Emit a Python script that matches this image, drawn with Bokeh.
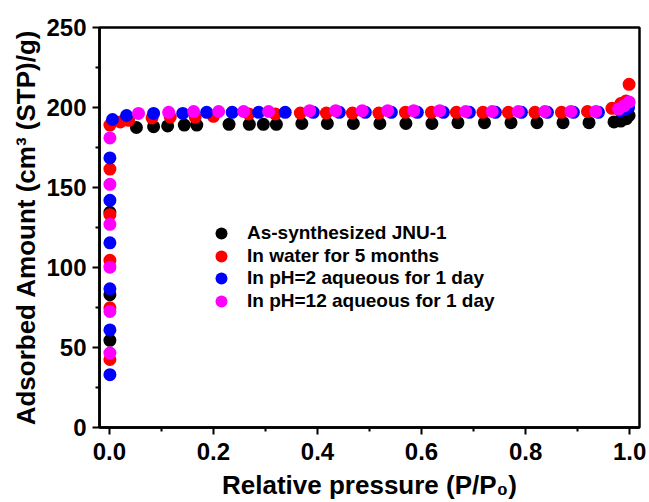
from bokeh.plotting import figure
from bokeh.models import Range1d, Legend, LegendItem, FixedTicker
from bokeh.embed import file_html
from bokeh.resources import INLINE

# ---- data ----
black_x = [0.001, 0.001, 0.001, 0.052, 0.085, 0.112, 0.144, 0.168, 0.230, 0.269, 0.296, 0.321,
           0.370, 0.419, 0.469, 0.520, 0.570, 0.620, 0.670, 0.721, 0.772, 0.822, 0.872, 0.922,
           0.970, 0.983, 0.994, 0.999]
black_y = [54.5, 83.0, 134.5, 187.5, 188.0, 188.5, 189.0, 189.0, 189.5, 189.5, 189.5, 189.5,
           190.0, 190.0, 190.0, 190.0, 190.0, 190.0, 190.5, 190.5, 190.5, 190.5, 190.5, 190.5,
           191.0, 191.5, 193.0, 195.0]

red_x = [0.001, 0.001, 0.001, 0.001, 0.001, 0.001, 0.021, 0.037, 0.082, 0.117, 0.165, 0.200,
         0.268, 0.319, 0.367, 0.417, 0.467, 0.518, 0.569, 0.619, 0.667, 0.718, 0.767, 0.818,
         0.869, 0.919, 0.966, 0.983, 0.993, 0.999]
red_y = [42.5, 74.8, 104.5, 133.0, 161.5, 189.0, 191.0, 192.0, 193.5, 194.0, 194.0, 194.5,
         196.0, 196.0, 196.5, 196.5, 196.5, 196.5, 197.0, 197.0, 197.0, 197.0, 197.0, 197.0,
         197.0, 197.5, 199.5, 202.5, 204.0, 214.5]

blue_x = [0.001, 0.001, 0.001, 0.001, 0.001, 0.001, 0.006, 0.033, 0.085, 0.141, 0.187, 0.236,
          0.287, 0.338, 0.392, 0.442, 0.492, 0.542, 0.592, 0.642, 0.692, 0.742, 0.792, 0.842,
          0.892, 0.940, 0.982, 0.992, 0.998]
blue_y = [33.0, 61.0, 86.7, 115.4, 142.0, 168.5, 192.5, 195.0, 196.3, 196.3, 197.0, 197.0,
          197.0, 197.0, 197.0, 197.0, 197.0, 197.0, 197.0, 197.0, 197.0, 197.0, 197.0, 197.0,
          197.0, 197.0, 198.0, 199.0, 200.0]

mag_x = [0.001, 0.001, 0.001, 0.001, 0.001, 0.001, 0.056, 0.114, 0.162, 0.210, 0.258, 0.306,
         0.385, 0.435, 0.486, 0.535, 0.585, 0.635, 0.685, 0.736, 0.786, 0.837, 0.887, 0.935,
         0.979, 0.989, 0.999]
mag_y = [46.5, 72.5, 100.2, 127.0, 152.0, 181.0, 196.3, 197.0, 197.5, 197.5, 197.5, 197.5,
         198.0, 198.0, 198.0, 198.0, 198.0, 198.0, 197.5, 197.5, 197.5, 197.5, 197.5, 197.5,
         199.0, 201.0, 203.5]

series_names = ["As-synthesized JNU-1", "In water for 5 months",
                "In pH=2 aqueous for 1 day", "In pH=12 aqueous for 1 day"]
series_colors = ["#000000", "#FF0000", "#0000FF", "#FF00FF"]
x_ticks = [0.0, 0.2, 0.4, 0.6, 0.8, 1.0]
y_ticks = [0, 50, 100, 150, 200, 250]

FONT = "Liberation Sans"

p = figure(width=649, height=502, output_backend="svg", toolbar_location=None,
           x_range=Range1d(-0.019, 1.019), y_range=Range1d(0, 250),
           min_border_left=99, min_border_right=10, min_border_top=27, min_border_bottom=74)

p.grid.visible = False
p.outline_line_color = "black"
p.outline_line_width = 2.5
p.background_fill_color = "white"
p.border_fill_color = "white"

p.xaxis.ticker = FixedTicker(ticks=x_ticks, minor_ticks=[0.1, 0.3, 0.5, 0.7, 0.9])
p.yaxis.ticker = FixedTicker(ticks=y_ticks, minor_ticks=[25, 75, 125, 175, 225])
p.xaxis.major_label_overrides = {t: f"{t:.1f}" for t in x_ticks}

for ax in (p.xaxis[0], p.yaxis[0]):
    ax.axis_line_width = 2.5
    ax.major_tick_line_width = 2
    ax.minor_tick_line_width = 2
    ax.major_tick_in = 0
    ax.major_tick_out = 7
    ax.minor_tick_in = 0
    ax.minor_tick_out = 4
    ax.major_label_text_font = FONT
    ax.major_label_text_font_style = "bold"
    ax.major_label_text_font_size = "24px"
    ax.major_label_text_color = "black"
    ax.axis_label_text_font = FONT
    ax.axis_label_text_font_style = "bold"
    ax.axis_label_text_font_size = "26px"
    ax.axis_label_text_color = "black"

p.xaxis.major_label_standoff = 8
p.yaxis.major_label_standoff = 6
p.xaxis.axis_label = "Relative pressure (P/P\u2080)"
p.yaxis.axis_label = "Adsorbed Amount (cm\u00b3 (STP)/g)"
p.xaxis.axis_label_standoff = 7
p.yaxis.axis_label_standoff = 2

renderers = []
for xs, ys, c in zip([black_x, red_x, blue_x, mag_x], [black_y, red_y, blue_y, mag_y], series_colors):
    r = p.scatter(xs, ys, size=13, fill_color=c, line_color=c, line_width=0)
    renderers.append(r)

# one legend per entry so that rows can sit closer than the glyph box height
legend_offsets = [179, 156, 134, 111]
for name, r, off in zip(series_names, renderers, legend_offsets):
    lg = Legend(items=[LegendItem(label=name, renderers=[r])],
                location=(107, off), orientation="vertical",
                glyph_width=30, glyph_height=30, spacing=0, padding=0, margin=0,
                label_standoff=11, label_text_font=FONT, label_text_font_style="bold",
                label_text_font_size="19px", label_text_color="black",
                border_line_alpha=0, background_fill_alpha=0)
    p.add_layout(lg)

open("out.html", "w").write(file_html(p, INLINE))
